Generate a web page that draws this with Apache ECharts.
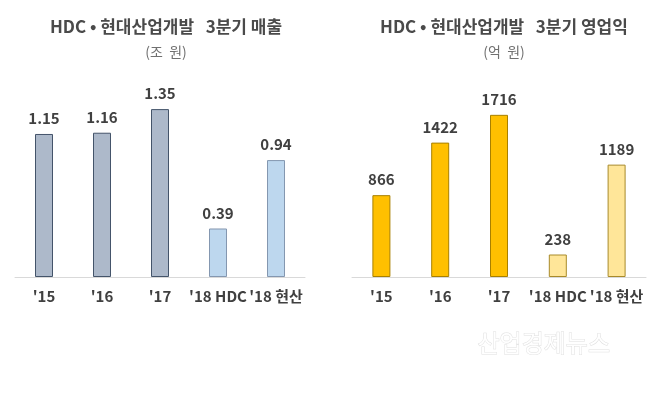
<!DOCTYPE html>
<html>
<head>
<meta charset="utf-8">
<script src="https://cdn.jsdelivr.net/npm/echarts@6/dist/echarts.min.js"></script>
<style>
  html, body { margin: 0; padding: 0; background: #fff; }
  #chart { width: 663px; height: 398px; }
</style>
</head>
<body>
<div id="chart"></div>
<script>
// 항목
var categories = ["'15", "'16", "'17", "'18 HDC", "'18 현산"]
// 3분기 매출 (조 원)
var salesValues = [1.15, 1.16, 1.35, 0.39, 0.94]
// 3분기 영업익 (억 원)
var profitValues = [866, 1422, 1716, 238, 1189]

var FONT = 'Noto Sans CJK KR'

// 앞 3개는 진한 색, '18 두 개는 연한 색
function buildData (values, dark, light) {
  return values.map(function (v, i) {
    var c = i < 3 ? dark : light
    return { value: v, itemStyle: { color: c[0], borderColor: c[1] } }
  })
}

var chart = echarts.init(document.getElementById('chart'))

var labelStyle = {
  show: true,
  position: 'top',
  distance: 8,
  color: '#404040',
  fontSize: 15,
  fontWeight: 'bold',
  fontFamily: FONT
}

function xAxisOf (idx) {
  return {
    type: 'category',
    gridIndex: idx,
    data: categories,
    axisTick: { show: false },
    axisLine: { lineStyle: { color: '#d9d9d9', width: 1 } },
    axisLabel: {
      interval: 0,
      margin: 12,
      color: '#404040',
      fontSize: 15,
      fontWeight: 'bold',
      fontFamily: FONT
    }
  }
}

function yAxisOf (idx, max) {
  return {
    type: 'value',
    gridIndex: idx,
    min: 0,
    max: max,
    show: false,
    splitLine: { show: false }
  }
}

function titleOf (text, sub, x) {
  return {
    text: text,
    subtext: sub,
    left: x,
    top: 13,
    textAlign: 'center',
    itemGap: 10,
    textStyle: { color: '#4a4a4a', fontSize: 17, fontWeight: 'bold', fontFamily: FONT },
    subtextStyle: { color: '#707070', fontSize: 14, fontFamily: FONT }
  }
}

var option = {
  animation: false,
  title: [
    titleOf('HDC • 현대산업개발   3분기 매출', '(조  원)', 161),
    titleOf('HDC • 현대산업개발   3분기 영업익', '(억  원)', 499)
  ],
  grid: [
    { left: 15, width: 290, top: 78, height: 199 },
    { left: 352, width: 294, top: 88, height: 189 }
  ],
  xAxis: [xAxisOf(0), xAxisOf(1)],
  yAxis: [yAxisOf(0, 1.6), yAxisOf(1, 2000)],
  series: [
    {
      type: 'bar',
      xAxisIndex: 0,
      yAxisIndex: 0,
      barWidth: 18,
      data: buildData(salesValues, ['#adb9ca', '#44546a'], ['#bdd7ee', '#8497b0']),
      itemStyle: { borderWidth: 1 },
      label: labelStyle
    },
    {
      type: 'bar',
      xAxisIndex: 1,
      yAxisIndex: 1,
      barWidth: 18,
      data: buildData(profitValues, ['#ffc000', '#a88000'], ['#ffe699', '#a88a2a']),
      itemStyle: { borderWidth: 1 },
      label: labelStyle
    }
  ],
  graphic: [
    { // 워터마크
      type: 'text',
      left: 477,
      top: 330,
      style: {
        text: '산업경제뉴스',
        fill: '#ffffff',
        font: '24px "Noto Sans CJK KR"',
        stroke: '#e0e0e0',
        lineWidth: 1,
        shadowColor: 'rgba(0,0,0,0.3)',
        shadowBlur: 2,
        shadowOffsetX: 1,
        shadowOffsetY: 1
      }
    }
  ]
}

chart.setOption(option)
</script>
</body>
</html>
